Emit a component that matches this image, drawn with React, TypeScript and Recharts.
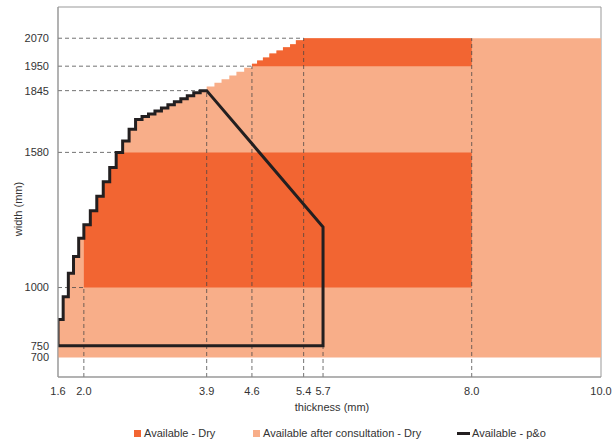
import { ComposedChart, Area, Line, XAxis, YAxis, ReferenceLine, ReferenceArea } from 'recharts'

const xTicks = [1.6, 2.0, 3.9, 4.6, 5.4, 5.7, 8.0, 10.0]
const yTicks = [700, 750, 1000, 1580, 1845, 1950, 2070]

// p&o staircase: thickness where each step starts and the width it allows
const poThickness = [1.6, 1.68, 1.76, 1.84, 1.92, 2.0, 2.1, 2.2, 2.3, 2.4, 2.5, 2.6, 2.7, 2.8, 2.9, 3.0, 3.1, 3.2, 3.3, 3.4, 3.5, 3.6, 3.7, 3.8]
const poWidth = [863, 960, 1061, 1133, 1211, 1269, 1330, 1392, 1454, 1515, 1580, 1629, 1679, 1721, 1734, 1745, 1758, 1771, 1784, 1797, 1810, 1823, 1836, 1845]
const poPeak = { x: 3.9, y: 1845 }
const poCorner = { x: 5.7, y: 1260 }
const poBase = 750

// steps above the p&o range, up to the full 2070
const upperThickness = [3.9, 4.02, 4.13, 4.25, 4.36, 4.48, 4.6, 4.68, 4.77, 4.87, 4.98, 5.08, 5.19, 5.28, 5.4]
const upperWidth = [1863, 1879, 1894, 1910, 1926, 1943, 1960, 1974, 1987, 2004, 2017, 2031, 2044, 2061, 2070]

const maxThickness = 10.0
const dryEnd = 8.0
const minWidth = 700
const maxWidth = 2070
const dryLow = 1000
const dryHigh = 1580
const dryTopLow = 1950
const dryStart = 2.0
const dryTopStart = 4.6

const guideH = [
  { y: 2070, to: 5.4 },
  { y: 1950, to: 4.6 },
  { y: 1845, to: 3.9 },
  { y: 1580, to: 2.5 },
  { y: 1000, to: 2.0 },
]
const guideV = [
  { x: 2.0, to: 1000 },
  { x: 3.9, to: 1845 },
  { x: 4.6, to: 1950 },
  { x: 5.4, to: 2070 },
  { x: 5.7, to: 750 },
  { x: 8.0, to: 2070 },
]

const X_DOMAIN: [number, number] = [1.6, 10]
const Y_DOMAIN: [number, number] = [616, 2204]

const DARK = '#F26532'
const LIGHT = '#F8AE89'
const INK = '#231F20'
const FONT = '"Liberation Sans", Arial, Helvetica, sans-serif'

const consultData = [
  ...poThickness.map((x, i) => ({ x, range: [minWidth, poWidth[i]] })),
  ...upperThickness.map((x, i) => ({ x, range: [minWidth, upperWidth[i]] })),
  { x: maxThickness, range: [minWidth, maxWidth] },
]

const dryData = [
  ...poThickness
    .map((x, i) => ({ x, range: [dryLow, Math.min(poWidth[i], dryHigh)] }))
    .filter((d) => d.x >= dryStart),
  { x: dryEnd, range: [dryLow, dryHigh] },
]

const dryTopData = [
  ...upperThickness
    .map((x, i) => ({ x, range: [dryTopLow, upperWidth[i]] }))
    .filter((d) => d.x >= dryTopStart),
  { x: dryEnd, range: [dryTopLow, maxWidth] },
]

const poData: { x: number; y: number }[] = [{ x: poThickness[0], y: poBase }]
poThickness.forEach((x, i) => {
  if (i > 0) poData.push({ x, y: poWidth[i - 1] })
  poData.push({ x, y: poWidth[i] })
})
poData.push(poPeak, poCorner, { x: poCorner.x, y: poBase }, { x: poThickness[0], y: poBase })

function LegendRow() {
  const item = { display: 'flex', alignItems: 'center', position: 'absolute' as const, top: 427, fontSize: 11, color: '#333', fontFamily: FONT, whiteSpace: 'nowrap' as const }
  return (
    <>
      <div style={{ ...item, left: 134 }}>
        <span style={{ width: 7, height: 7, background: DARK, marginRight: 3 }} />
        Available - Dry
      </div>
      <div style={{ ...item, left: 253 }}>
        <span style={{ width: 7, height: 7, background: LIGHT, marginRight: 3 }} />
        Available after consultation - Dry
      </div>
      <div style={{ ...item, left: 457 }}>
        <span style={{ width: 13, height: 3, background: INK, marginRight: 2 }} />
        Available - p&amp;o
      </div>
    </>
  )
}

export default function App() {
  return (
    <div style={{ position: 'absolute', left: 0, top: 0, width: 616, height: 444, background: '#fff' }}>
      <ComposedChart width={616} height={444} margin={{ top: 7, right: 15, bottom: 37, left: 0 }}>
        <XAxis
          type="number"
          dataKey="x"
          domain={X_DOMAIN}
          ticks={xTicks}
          interval={0}
          allowDataOverflow
          height={30}
          tickLine={false}
          tickMargin={4}
          axisLine={{ stroke: '#999' }}
          tickFormatter={(v: number) => v.toFixed(1)}
          tick={{ fill: '#333', fontSize: 11, fontFamily: FONT }}
          label={{
            content: () => (
              <text x={332} y={411} textAnchor="middle" fill="#333" fontSize={11} fontFamily={FONT}>
                thickness (mm)
              </text>
            ),
          }}
        />
        <YAxis
          type="number"
          domain={Y_DOMAIN}
          ticks={yTicks}
          interval={0}
          allowDataOverflow
          width={58}
          tickLine={false}
          tickMargin={3}
          axisLine={{ stroke: '#999' }}
          tick={{ fill: '#333', fontSize: 11, fontFamily: FONT }}
          label={{
            content: () => (
              <text x={22} y={209} transform="rotate(-90 22 209)" textAnchor="middle" fill="#333" fontSize={11} fontFamily={FONT}>
                width (mm)
              </text>
            ),
          }}
        />
        <ReferenceArea x1={X_DOMAIN[0]} x2={X_DOMAIN[1]} y1={Y_DOMAIN[0]} y2={Y_DOMAIN[1]} fill="none" stroke="#999" strokeWidth={1} />
        <Area data={consultData} dataKey="range" type="stepAfter" fill={LIGHT} fillOpacity={1} stroke="none" isAnimationActive={false} dot={false} activeDot={false} />
        <Area data={dryData} dataKey="range" type="stepAfter" fill={DARK} fillOpacity={1} stroke="none" isAnimationActive={false} dot={false} activeDot={false} />
        <Area data={dryTopData} dataKey="range" type="stepAfter" fill={DARK} fillOpacity={1} stroke="none" isAnimationActive={false} dot={false} activeDot={false} />
        {guideH.map((g) => (
          <ReferenceLine key={'h' + g.y} segment={[{ x: X_DOMAIN[0], y: g.y }, { x: g.to, y: g.y }]} stroke="#444" strokeOpacity={0.75} strokeDasharray="4 3" />
        ))}
        {guideV.map((g) => (
          <ReferenceLine key={'v' + g.x} segment={[{ x: g.x, y: Y_DOMAIN[0] }, { x: g.x, y: g.to }]} stroke="#444" strokeOpacity={0.75} strokeDasharray="4 3" />
        ))}
        <Line data={poData} dataKey="y" type="linear" stroke={INK} strokeWidth={3} strokeLinecap="square" dot={false} activeDot={false} isAnimationActive={false} />
      </ComposedChart>
      <LegendRow />
    </div>
  )
}
